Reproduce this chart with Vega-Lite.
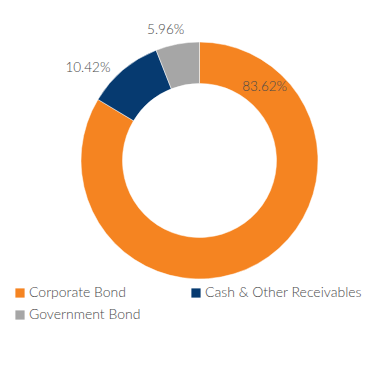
{
  "$schema": "https://vega.github.io/schema/vega-lite/v6.json",
  "autosize": {"type": "none"},
  "padding": {"left": 30, "top": 0, "right": 0, "bottom": 0},
  "width": 339,
  "height": 321,
  "background": "white",
  "config": {"view": {"stroke": null}, "font": "Lato"},
  "data": {"values": [
    {"category": "Corporate Bond", "pct": 0.8362, "order": 1},
    {"category": "Cash & Other Receivables", "pct": 0.1042, "order": 2},
    {"category": "Government Bond", "pct": 0.0596, "order": 3}
  ]},
  "encoding": {
    "theta": {"field": "pct", "type": "quantitative", "stack": true},
    "order": {"field": "order", "type": "quantitative"},
    "color": {
      "field": "category", "type": "nominal",
      "scale": {"domain": ["Corporate Bond", "Government Bond", "Cash & Other Receivables"], "range": ["#F58421", "#A6A6A6", "#063A70"]},
      "legend": {
        "title": null, "orient": "none", "legendX": -17, "legendY": 286,
        "columns": 2, "columnPadding": 48, "rowPadding": 8,
        "symbolType": "square", "symbolSize": 85, "symbolStrokeWidth": 0,
        "labelFont": "Lato", "labelFontSize": 14, "labelColor": "#4a4a4a", "labelFontWeight": 300,
        "labelOffset": 2, "labelLimit": 300
      }
    }
  },
  "layer": [
    {"mark": {"type": "arc", "innerRadius": 77, "outerRadius": 118.5, "stroke": "white", "strokeWidth": 0.5}},
    {"mark": {"type": "text", "radius": 98, "thetaOffset": -1.9, "fontSize": 13.5, "fontWeight": 300, "align": "center", "baseline": "middle"},
     "encoding": {"color": {"value": "#4a4a4a"}, "text": {"condition": {"test": "datum.category === 'Corporate Bond'", "field": "pct", "type": "quantitative", "format": ".2%"}, "value": ""}}},
    {"mark": {"type": "text", "radius": 145, "thetaOffset": -0.176, "fontSize": 13.5, "fontWeight": 300, "align": "center", "baseline": "middle"},
     "encoding": {"color": {"value": "#4a4a4a"}, "text": {"condition": {"test": "datum.category === 'Cash & Other Receivables'", "field": "pct", "type": "quantitative", "format": ".2%"}, "value": ""}}},
    {"mark": {"type": "text", "radius": 135, "thetaOffset": -0.066, "fontSize": 13.5, "fontWeight": 300, "align": "center", "baseline": "middle"},
     "encoding": {"color": {"value": "#4a4a4a"}, "text": {"condition": {"test": "datum.category === 'Government Bond'", "field": "pct", "type": "quantitative", "format": ".2%"}, "value": ""}}}
  ]
}
